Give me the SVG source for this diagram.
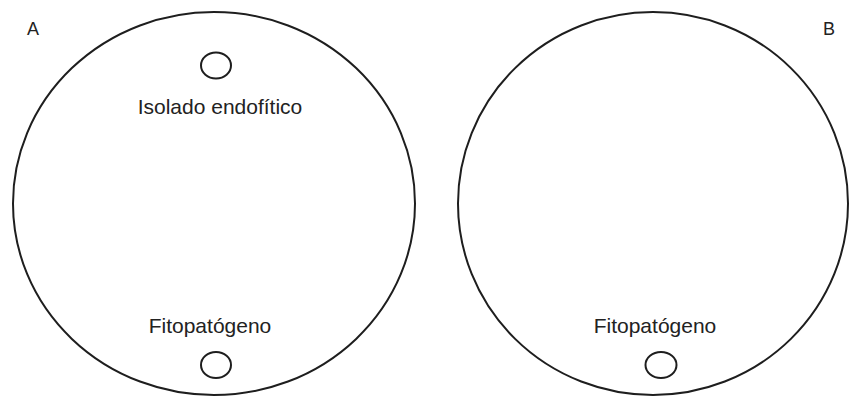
<svg xmlns="http://www.w3.org/2000/svg" width="851" height="396" viewBox="0 0 851 396">
<style>
.plate{fill:none;stroke:#1e1e1e;stroke-width:2}
.colony{fill:none;stroke:#1e1e1e;stroke-width:2}
.lbl{font-family:"Liberation Sans",Arial,sans-serif;font-size:21px;fill:#222;text-anchor:middle}
.pl{font-family:"Liberation Sans",Arial,sans-serif;font-size:18px;fill:#222}
</style>
<rect width="851" height="396" fill="#fff"/>
<g id="plateA">
<ellipse class="plate" cx="214" cy="203.5" rx="201" ry="191.5"/>
<text class="pl" x="27" y="35">A</text>
</g>
<g id="endofitoA">
<ellipse class="colony" cx="216" cy="65.5" rx="15" ry="13"/>
<text class="lbl" x="220" y="114">Isolado endofítico</text>
</g>
<g id="fitopatogenoA">
<text class="lbl" x="210" y="333">Fitopatógeno</text>
<ellipse class="colony" cx="216" cy="365" rx="15" ry="13"/>
</g>
<g id="plateB">
<ellipse class="plate" cx="653" cy="203.5" rx="195" ry="191.5"/>
<text class="pl" x="823" y="35">B</text>
</g>
<g id="fitopatogenoB">
<text class="lbl" x="655" y="333">Fitopatógeno</text>
<ellipse class="colony" cx="661" cy="365" rx="15.5" ry="13"/>
</g>
<g id="connectors"/>
</svg>
